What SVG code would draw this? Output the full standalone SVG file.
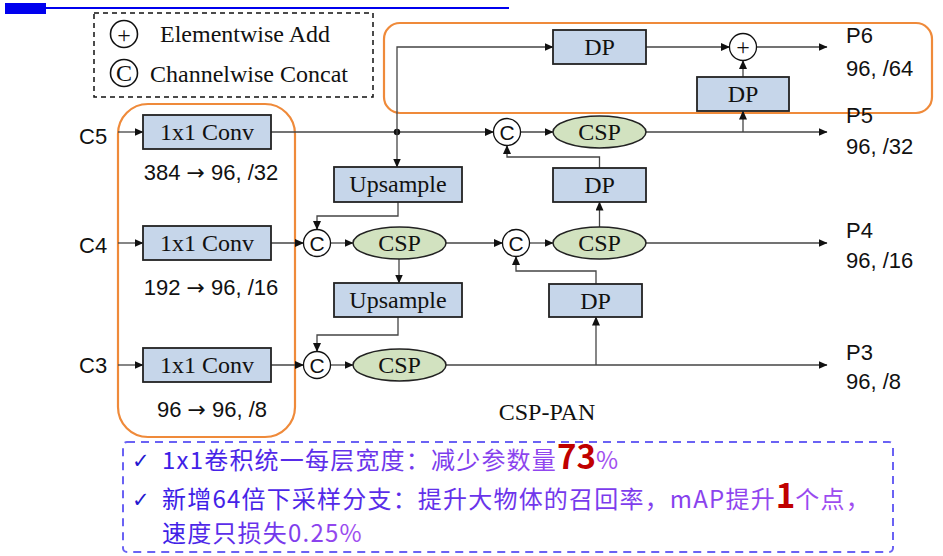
<svg xmlns="http://www.w3.org/2000/svg" width="943" height="556" viewBox="0 0 943 556">
<defs>
<marker id="ah" markerWidth="9" markerHeight="8" refX="8.5" refY="4" orient="auto" markerUnits="userSpaceOnUse">
<path d="M0,0 L9,4 L0,8 z" fill="#111"/>
</marker>
<linearGradient id="tg" x1="0" y1="0" x2="1" y2="0">
<stop offset="0" stop-color="#3a1de6"/>
<stop offset="1" stop-color="#a24ef0"/>
</linearGradient>
<style>
.box{fill:#c6d6ea;stroke:#222;stroke-width:1.8}
.ell{fill:#d2e2c0;stroke:#222;stroke-width:1.5}
.cir{fill:#fff;stroke:#111;stroke-width:1.3}
.ser{font-family:"Liberation Serif",serif;font-size:24px;fill:#111;text-anchor:middle}
.san{font-family:"Liberation Sans",Arial,sans-serif;font-size:22px;fill:#111}
.arw{font-family:"DejaVu Sans",sans-serif}
.cc{font-family:"Liberation Sans",Arial,sans-serif;font-size:21px;fill:#111;text-anchor:middle}
.ln{fill:none;stroke:#444;stroke-width:1.3}
.ar{marker-end:url(#ah)}
.org{fill:none;stroke:#ef8a3a;stroke-width:2.2}
.cn{font-family:"Noto Sans CJK SC","Noto Sans",sans-serif;font-size:24px;letter-spacing:1.2px}
.ck{font-family:"DejaVu Sans",sans-serif;font-size:21px;fill:#2418d0}
.big{fill:#c00000;font-size:33px;font-weight:600;letter-spacing:0}
</style>
</defs>
<rect width="943" height="556" fill="#fff"/>

<!-- header bar -->
<rect x="5" y="3" width="41" height="11" fill="#0000ee"/>
<line x1="46" y1="8" x2="509" y2="8" stroke="#0000ee" stroke-width="2.2"/>

<!-- legend -->
<g id="legend">
<rect x="94" y="13" width="279" height="84" fill="none" stroke="#111" stroke-width="1.5" stroke-dasharray="5,4"/>
<circle cx="124" cy="34" r="13.5" fill="#fff" stroke="#111" stroke-width="1.6"/>
<text x="124" y="42.5" class="ser" font-size="26">+</text>
<text x="160" y="42" font-family="Liberation Serif,serif" font-size="24" fill="#111">Elementwise Add</text>
<circle cx="124" cy="73" r="13.5" fill="#fff" stroke="#111" stroke-width="1.6"/>
<text x="124" y="81" class="ser" font-size="23">C</text>
<text x="150" y="82" font-family="Liberation Serif,serif" font-size="24" fill="#111">Channelwise Concat</text>
</g>

<!-- orange groupings -->
<rect x="384" y="23" width="548" height="90" rx="16" class="org"/>
<rect x="118" y="104" width="177" height="333" rx="30" class="org"/>

<!-- connectors -->
<g id="connectors">
<path class="ln ar" d="M118,132 H143"/>
<path class="ln ar" d="M118,243 H143"/>
<path class="ln ar" d="M118,365 H143"/>
<path class="ln ar" d="M271,132 H493.5"/>
<circle cx="397" cy="132" r="3.2" fill="#111"/>
<path class="ln ar" d="M397,132 V47 H553"/>
<path class="ln ar" d="M397,132 V167"/>
<path class="ln ar" d="M398,202 V216 H317 V229.5"/>
<path class="ln ar" d="M271,243 H303.5"/>
<path class="ln ar" d="M330.5,243 H353"/>
<path class="ln ar" d="M446,243 H502.5"/>
<path class="ln ar" d="M399,258 V283"/>
<path class="ln ar" d="M398,317 V335 H317 V351.5"/>
<path class="ln ar" d="M271,365 H303.5"/>
<path class="ln ar" d="M330.5,365 H353"/>
<path class="ln ar" d="M446,365 H827"/>
<path class="ln ar" d="M596,365 V317"/>
<path class="ln ar" d="M596,284 V271 H516 V256.5"/>
<path class="ln ar" d="M529.5,243 H553"/>
<path class="ln ar" d="M646,243 H827"/>
<path class="ln ar" d="M599.5,227 V202"/>
<path class="ln ar" d="M599.5,168 V157 H507 V145.5"/>
<path class="ln ar" d="M520.5,132 H553"/>
<path class="ln ar" d="M646,132 H827"/>
<path class="ln ar" d="M743,132 V111"/>
<path class="ln ar" d="M743,77 V60.5"/>
<path class="ln ar" d="M646,47 H729.5"/>
<path class="ln ar" d="M756.5,47 H827"/>
</g>

<!-- input labels -->
<text x="79" y="144" class="san">C5</text>
<text x="79" y="253" class="san">C4</text>
<text x="79" y="373" class="san">C3</text>

<!-- 1x1 convs -->
<g id="conv5"><rect x="143" y="115" width="128" height="34" class="box"/><text x="207" y="140" class="ser">1x1 Conv</text></g>
<g id="conv4"><rect x="143" y="226" width="128" height="34" class="box"/><text x="207" y="251" class="ser">1x1 Conv</text></g>
<g id="conv3"><rect x="143" y="348" width="128" height="34" class="box"/><text x="207" y="373" class="ser">1x1 Conv</text></g>
<text x="211" y="180" class="san" text-anchor="middle">384 <tspan class="arw">→</tspan> 96, /32</text>
<text x="211" y="295" class="san" text-anchor="middle">192 <tspan class="arw">→</tspan> 96, /16</text>
<text x="212" y="417" class="san" text-anchor="middle">96 <tspan class="arw">→</tspan> 96, /8</text>

<!-- top-down path -->
<g id="up1"><rect x="334" y="167" width="128" height="35" class="box"/><text x="398" y="192" class="ser">Upsample</text></g>
<g id="up2"><rect x="334" y="283" width="128" height="34" class="box"/><text x="398" y="308" class="ser">Upsample</text></g>
<g id="cat4a"><circle cx="317" cy="243" r="13.5" class="cir"/><text x="317" y="250.5" class="cc">C</text></g>
<g id="cat3"><circle cx="317" cy="365" r="13.5" class="cir"/><text x="317" y="372.5" class="cc">C</text></g>
<g id="csp4a"><ellipse cx="399.5" cy="243" rx="46.5" ry="16" class="ell"/><text x="399.5" y="251" class="ser">CSP</text></g>
<g id="csp3"><ellipse cx="399.5" cy="365" rx="46.5" ry="16" class="ell"/><text x="399.5" y="373" class="ser">CSP</text></g>

<!-- bottom-up path -->
<g id="cat4b"><circle cx="516" cy="243" r="13.5" class="cir"/><text x="516" y="250.5" class="cc">C</text></g>
<g id="cat5"><circle cx="507" cy="132" r="13.5" class="cir"/><text x="507" y="139.5" class="cc">C</text></g>
<g id="csp4b"><ellipse cx="599.5" cy="243" rx="46.5" ry="16" class="ell"/><text x="599.5" y="251" class="ser">CSP</text></g>
<g id="csp5"><ellipse cx="599.5" cy="132" rx="46.5" ry="16" class="ell"/><text x="599.5" y="140" class="ser">CSP</text></g>
<g id="dp4"><rect x="549" y="284" width="93" height="33" class="box"/><text x="595.5" y="308.5" class="ser">DP</text></g>
<g id="dp3"><rect x="553" y="168" width="93" height="34" class="box"/><text x="599.5" y="193" class="ser">DP</text></g>
<g id="dp1"><rect x="553" y="30" width="93" height="34" class="box"/><text x="599.5" y="55" class="ser">DP</text></g>
<g id="dp2"><rect x="697" y="77" width="92" height="34" class="box"/><text x="743" y="102" class="ser">DP</text></g>
<g id="add6"><circle cx="743" cy="47" r="13.5" class="cir"/><text x="743" y="55" class="ser" font-size="24">+</text></g>

<!-- outputs -->
<text x="846" y="43" class="san">P6</text>
<text x="846" y="76" class="san">96, /64</text>
<text x="846" y="123" class="san">P5</text>
<text x="846" y="154" class="san">96, /32</text>
<text x="846" y="238" class="san">P4</text>
<text x="846" y="268" class="san">96, /16</text>
<text x="846" y="360" class="san">P3</text>
<text x="846" y="389" class="san">96, /8</text>

<text x="547" y="420" class="ser">CSP-PAN</text>

<!-- notes -->
<g id="notes">
<rect x="123" y="442" width="770" height="110" rx="4" fill="none" stroke="#6a62f4" stroke-width="2" stroke-dasharray="8,6"/>
<text x="132" y="468" class="ck">✓</text>
<text x="162" y="469" class="cn" fill="url(#tg)">1x1卷积统一每层宽度：减少参数量<tspan class="big">73</tspan>%</text>
<text x="132" y="507" class="ck">✓</text>
<text x="162" y="508" class="cn" fill="url(#tg)">新增64倍下采样分支：提升大物体的召回率，mAP提升<tspan class="big">1</tspan>个点，</text>
<text x="162" y="542" class="cn" fill="url(#tg)">速度只损失0.25%</text>
</g>
</svg>
